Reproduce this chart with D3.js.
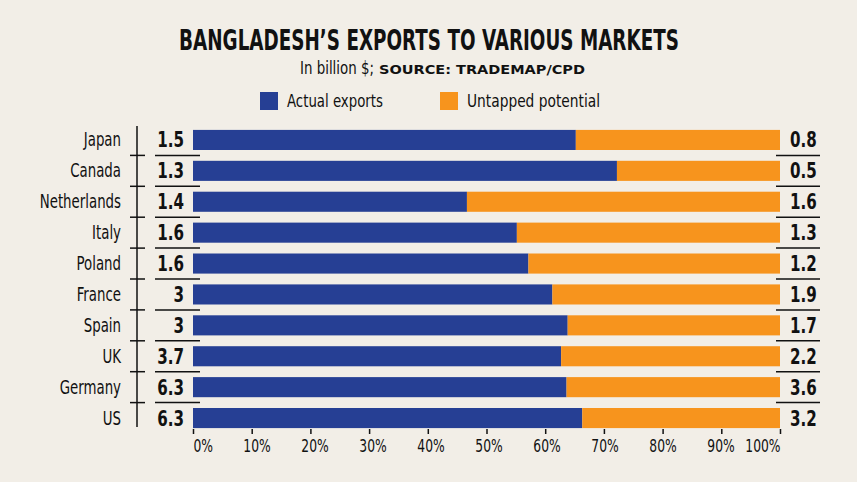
<!DOCTYPE html>
<html>
<head>
<meta charset="utf-8">
<script src="https://cdn.jsdelivr.net/npm/d3@7"></script>
<style>
  html, body { margin: 0; padding: 0; background: #f2eee7; }
  svg { display: block; }
</style>
</head>
<body>
<svg id="chart" width="857" height="482"></svg>
<script>
const countries = ["Japan", "Canada", "Netherlands", "Italy", "Poland", "France", "Spain", "UK", "Germany", "US"];
const actualExports = [1.5, 1.3, 1.4, 1.6, 1.6, 3, 3, 3.7, 6.3, 6.3];
const untappedPotential = [0.8, 0.5, 1.6, 1.3, 1.2, 1.9, 1.7, 2.2, 3.6, 3.2];
const xTicks = [0, 0.1, 0.2, 0.3, 0.4, 0.5, 0.6, 0.7, 0.8, 0.9, 1.0];
const seriesNames = ["Actual exports", "Untapped potential"];
const colors = ["#263f94", "#f7941d"];

const svg = d3.select("#chart");
const NARROW = '"Liberation Sans Narrow", "DejaVu Sans Condensed", sans-serif';

// squeeze text horizontally to mimic a condensed face
function squeeze(sel, factor) {
  sel.each(function () {
    const w = this.getComputedTextLength();
    d3.select(this).attr("textLength", w * factor).attr("lengthAdjust", "spacingAndGlyphs");
  });
}

svg.append("rect").attr("width", 857).attr("height", 482).attr("fill", "#f2eee7");

// Title (scaled horizontally to a condensed width)
const title = svg.append("text").attr("text-anchor", "middle")
  .attr("font-family", NARROW).attr("font-weight", "bold").attr("font-size", 28)
  .attr("fill", "#111").text("BANGLADESH\u2019S EXPORTS TO VARIOUS MARKETS");
const tw = title.node().getComputedTextLength();
title.attr("transform", `translate(429,50) scale(${500 / tw},1)`);

// Subtitle
svg.append("text").attr("x", 300).attr("y", 74)
  .attr("font-family", NARROW).attr("font-size", 17).attr("fill", "#111")
  .attr("textLength", 74).attr("lengthAdjust", "spacingAndGlyphs")
  .text("In billion $;");
svg.append("text").attr("x", 379).attr("y", 74)
  .attr("font-family", "DejaVu Sans").attr("font-weight", "bold").attr("font-size", 11.5).attr("fill", "#111")
  .attr("textLength", 206).attr("lengthAdjust", "spacingAndGlyphs")
  .text("SOURCE: TRADEMAP/CPD");

// Legend
const legendX = [260, 440];
const legendTextW = [96, 133];
seriesNames.forEach((name, i) => {
  svg.append("rect").attr("x", legendX[i]).attr("y", 92).attr("width", 18).attr("height", 18).attr("fill", colors[i]);
  svg.append("text").attr("x", legendX[i] + 27).attr("y", 107)
    .attr("font-family", NARROW).attr("font-size", 18).attr("fill", "#111")
    .attr("textLength", legendTextW[i]).attr("lengthAdjust", "spacingAndGlyphs")
    .text(name);
});

// Scales
const x = d3.scaleLinear().domain([0, 1]).range([193, 780]);
const y = d3.scaleBand().domain(countries).range([124.5, 433.5]).paddingInner(0.35).paddingOuter(0.175);
const step = y.step();

const data = countries.map((c, i) => {
  const tot = actualExports[i] + untappedPotential[i];
  return { c, a: actualExports[i], u: untappedPotential[i], fa: actualExports[i] / tot };
});

// Bars
const g = svg.append("g");
g.selectAll("rect.act").data(data).enter().append("rect").attr("class", "act")
  .attr("x", x(0)).attr("y", d => y(d.c)).attr("height", y.bandwidth())
  .attr("width", d => x(d.fa) - x(0)).attr("fill", colors[0]);
g.selectAll("rect.pot").data(data).enter().append("rect").attr("class", "pot")
  .attr("x", d => x(d.fa)).attr("y", d => y(d.c)).attr("height", y.bandwidth())
  .attr("width", d => x(1) - x(d.fa)).attr("fill", colors[1]);

// Left category labels
svg.selectAll("text.cat").data(data).enter().append("text").attr("class", "cat")
  .attr("x", 121).attr("y", d => y(d.c) + y.bandwidth() / 2 + 6.5)
  .attr("text-anchor", "end").attr("font-family", NARROW).attr("font-size", 19).attr("fill", "#111")
  .text(d => d.c)
  .call(squeeze, 0.78);

// Left values
svg.selectAll("text.lv").data(data).enter().append("text").attr("class", "lv")
  .attr("x", 184).attr("y", d => y(d.c) + y.bandwidth() / 2 + 7.5)
  .attr("text-anchor", "end").attr("font-family", NARROW).attr("font-weight", "bold").attr("font-size", 21).attr("fill", "#111")
  .text(d => d.a)
  .call(squeeze, 0.8);

// Right values
svg.selectAll("text.rv").data(data).enter().append("text").attr("class", "rv")
  .attr("x", 790).attr("y", d => y(d.c) + y.bandwidth() / 2 + 7.5)
  .attr("text-anchor", "start").attr("font-family", NARROW).attr("font-weight", "bold").attr("font-size", 21).attr("fill", "#111")
  .text(d => d.u)
  .call(squeeze, 0.8);

// Separators
const seps = data.slice(0, -1);
const sepY = d => y(d.c) + y.bandwidth() / 2 + step / 2;
svg.selectAll("line.ls").data(seps).enter().append("line").attr("class", "ls")
  .attr("x1", 155).attr("x2", 200).attr("y1", sepY).attr("y2", sepY)
  .attr("stroke", "#111").attr("stroke-width", 1.5);
svg.selectAll("line.rs").data(seps).enter().append("line").attr("class", "rs")
  .attr("x1", 776).attr("x2", 820).attr("y1", sepY).attr("y2", sepY)
  .attr("stroke", "#111").attr("stroke-width", 1.5);
svg.selectAll("line.cross").data(seps).enter().append("line").attr("class", "cross")
  .attr("x1", 130).attr("x2", 145).attr("y1", sepY).attr("y2", sepY)
  .attr("stroke", "#111").attr("stroke-width", 1.5);
svg.append("line").attr("x1", 137).attr("x2", 137).attr("y1", 126).attr("y2", 427)
  .attr("stroke", "#111").attr("stroke-width", 1.5);

// Bottom axis
const axis = d3.axisBottom(x).tickValues(xTicks).tickSize(5).tickPadding(5)
  .tickFormat(d => Math.round(d * 100) + "%");
const ax = svg.append("g").attr("transform", "translate(0,429)").call(axis);
ax.select(".domain").remove();
ax.selectAll(".tick line").attr("stroke", "#111").attr("stroke-width", 1.5);
const last = xTicks.length - 1;
ax.selectAll(".tick text")
  .attr("font-family", NARROW).attr("font-size", 18).attr("fill", "#111")
  .attr("text-anchor", (d, i) => i === 0 ? "start" : (i === last ? "end" : "middle"))
  .attr("dx", (d, i) => (i === 0 || i === last) ? 0 : 5.5 - 0.7 * i)
  .call(squeeze, 0.76);
</script>
</body>
</html>
